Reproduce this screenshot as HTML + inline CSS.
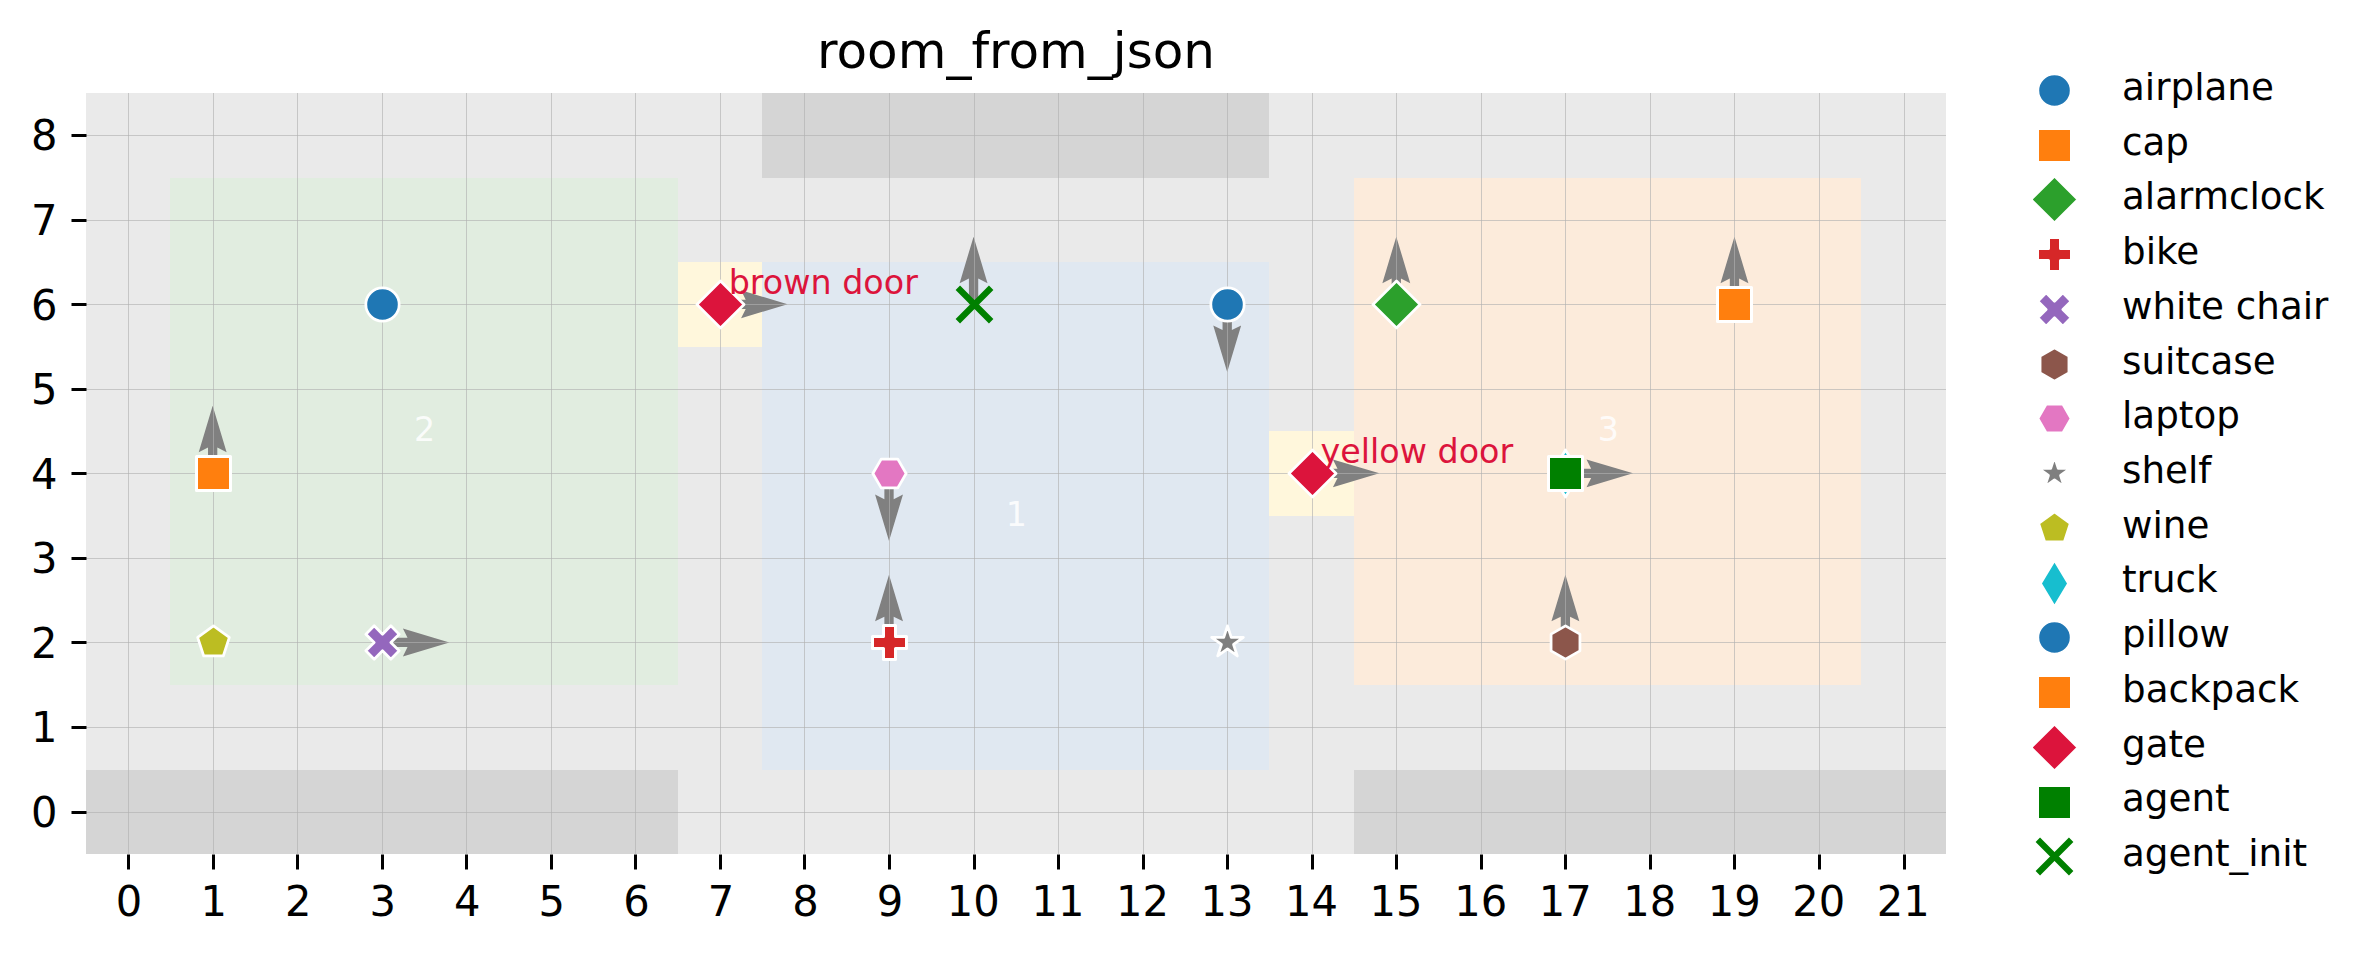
<!DOCTYPE html>
<html lang="en">
<head>
<meta charset="utf-8">
<title>room_from_json</title>
<style>
html,body{margin:0;padding:0;background:#ffffff;}
body{width:2374px;height:955px;overflow:hidden;}
svg{display:block;}
text{white-space:pre;}
</style>
</head>
<body>
<svg width="2374" height="955" viewBox="0 0 2374 955">
<rect x="0" y="0" width="2374" height="955" fill="#ffffff"/>
<rect x="86" y="93" width="1860" height="761" fill="#eaeaea"/>
<g shape-rendering="auto">
<rect x="762" y="93" width="507" height="85" fill="#d5d5d5"/>
<rect x="86" y="770" width="592" height="84" fill="#d5d5d5"/>
<rect x="1354" y="770" width="592" height="84" fill="#d5d5d5"/>
<rect x="170" y="178" width="508" height="507" fill="#e1ede0"/>
<rect x="762" y="262" width="507" height="508" fill="#e0e8f1"/>
<rect x="1354" y="178" width="507" height="507" fill="#fcebdb"/>
<rect x="678" y="262" width="84" height="85" fill="#fff7dc"/>
<rect x="1269" y="431" width="85" height="85" fill="#fff7dc"/>
</g>
<g>
<polygon points="208.02,473.37 208.02,447.58 198.72,452.23 212.67,405.73 226.62,452.23 217.32,447.58 217.32,473.37" fill="#808080"/>
<polygon points="1391.64,304.28 1391.64,278.49 1382.35,283.14 1396.3,236.64 1410.25,283.14 1400.95,278.49 1400.95,304.28" fill="#808080"/>
<polygon points="884.38,642.46 884.38,616.67 875.07,621.32 889.02,574.82 902.98,621.32 893.67,616.67 893.67,642.46" fill="#808080"/>
<polygon points="381.75,637.81 407.54,637.81 402.89,628.51 449.39,642.46 402.89,656.41 407.54,647.11 381.75,647.11" fill="#808080"/>
<polygon points="1560.74,642.46 1560.74,616.67 1551.44,621.32 1565.39,574.82 1579.34,621.32 1570.04,616.67 1570.04,642.46" fill="#808080"/>
<polygon points="893.67,473.37 893.67,499.16 902.98,494.51 889.02,541.01 875.07,494.51 884.38,499.16 884.38,473.37" fill="#808080"/>
<polygon points="1231.86,304.28 1231.86,330.07 1241.15,325.42 1227.2,371.92 1213.25,325.42 1222.55,330.07 1222.55,304.28" fill="#808080"/>
<polygon points="1729.82,304.28 1729.82,278.49 1720.52,283.14 1734.47,236.64 1748.42,283.14 1739.12,278.49 1739.12,304.28" fill="#808080"/>
<polygon points="719.94,299.63 745.72,299.63 741.07,290.33 787.57,304.28 741.07,318.23 745.72,308.93 719.94,308.93" fill="#808080"/>
<polygon points="1311.75,468.72 1337.54,468.72 1332.89,459.42 1379.39,473.37 1332.89,487.32 1337.54,478.02 1311.75,478.02" fill="#808080"/>
<polygon points="1565.39,468.72 1591.17,468.72 1586.52,459.42 1633.02,473.37 1586.52,487.32 1591.17,478.02 1565.39,478.02" fill="#808080"/>
<polygon points="968.92,304.28 968.92,278.49 959.62,283.14 973.57,236.64 987.52,283.14 978.22,278.49 978.22,304.28" fill="#808080"/>
</g>
<g stroke="rgb(176,176,176)" stroke-opacity="0.64" stroke-width="1.0" fill="none" shape-rendering="crispEdges">
<line x1="128.5" y1="93" x2="128.5" y2="854"/>
<line x1="213.5" y1="93" x2="213.5" y2="854"/>
<line x1="297.5" y1="93" x2="297.5" y2="854"/>
<line x1="382.5" y1="93" x2="382.5" y2="854"/>
<line x1="466.5" y1="93" x2="466.5" y2="854"/>
<line x1="551.5" y1="93" x2="551.5" y2="854"/>
<line x1="635.5" y1="93" x2="635.5" y2="854"/>
<line x1="720.5" y1="93" x2="720.5" y2="854"/>
<line x1="804.5" y1="93" x2="804.5" y2="854"/>
<line x1="889.5" y1="93" x2="889.5" y2="854"/>
<line x1="974.5" y1="93" x2="974.5" y2="854"/>
<line x1="1058.5" y1="93" x2="1058.5" y2="854"/>
<line x1="1143.5" y1="93" x2="1143.5" y2="854"/>
<line x1="1227.5" y1="93" x2="1227.5" y2="854"/>
<line x1="1312.5" y1="93" x2="1312.5" y2="854"/>
<line x1="1396.5" y1="93" x2="1396.5" y2="854"/>
<line x1="1481.5" y1="93" x2="1481.5" y2="854"/>
<line x1="1565.5" y1="93" x2="1565.5" y2="854"/>
<line x1="1650.5" y1="93" x2="1650.5" y2="854"/>
<line x1="1734.5" y1="93" x2="1734.5" y2="854"/>
<line x1="1819.5" y1="93" x2="1819.5" y2="854"/>
<line x1="1904.5" y1="93" x2="1904.5" y2="854"/>
<line x1="86" y1="812.5" x2="1946" y2="812.5"/>
<line x1="86" y1="727.5" x2="1946" y2="727.5"/>
<line x1="86" y1="642.5" x2="1946" y2="642.5"/>
<line x1="86" y1="558.5" x2="1946" y2="558.5"/>
<line x1="86" y1="473.5" x2="1946" y2="473.5"/>
<line x1="86" y1="389.5" x2="1946" y2="389.5"/>
<line x1="86" y1="304.5" x2="1946" y2="304.5"/>
<line x1="86" y1="220.5" x2="1946" y2="220.5"/>
<line x1="86" y1="135.5" x2="1946" y2="135.5"/>
</g>
<g stroke="#000000" stroke-width="3">
<line x1="128.5" y1="854.5" x2="128.5" y2="869.5"/>
<line x1="213.5" y1="854.5" x2="213.5" y2="869.5"/>
<line x1="297.5" y1="854.5" x2="297.5" y2="869.5"/>
<line x1="382.5" y1="854.5" x2="382.5" y2="869.5"/>
<line x1="466.5" y1="854.5" x2="466.5" y2="869.5"/>
<line x1="551.5" y1="854.5" x2="551.5" y2="869.5"/>
<line x1="635.5" y1="854.5" x2="635.5" y2="869.5"/>
<line x1="720.5" y1="854.5" x2="720.5" y2="869.5"/>
<line x1="804.5" y1="854.5" x2="804.5" y2="869.5"/>
<line x1="889.5" y1="854.5" x2="889.5" y2="869.5"/>
<line x1="974.5" y1="854.5" x2="974.5" y2="869.5"/>
<line x1="1058.5" y1="854.5" x2="1058.5" y2="869.5"/>
<line x1="1143.5" y1="854.5" x2="1143.5" y2="869.5"/>
<line x1="1227.5" y1="854.5" x2="1227.5" y2="869.5"/>
<line x1="1312.5" y1="854.5" x2="1312.5" y2="869.5"/>
<line x1="1396.5" y1="854.5" x2="1396.5" y2="869.5"/>
<line x1="1481.5" y1="854.5" x2="1481.5" y2="869.5"/>
<line x1="1565.5" y1="854.5" x2="1565.5" y2="869.5"/>
<line x1="1650.5" y1="854.5" x2="1650.5" y2="869.5"/>
<line x1="1734.5" y1="854.5" x2="1734.5" y2="869.5"/>
<line x1="1819.5" y1="854.5" x2="1819.5" y2="869.5"/>
<line x1="1904.5" y1="854.5" x2="1904.5" y2="869.5"/>
<line x1="71.5" y1="812.5" x2="86.5" y2="812.5"/>
<line x1="71.5" y1="727.5" x2="86.5" y2="727.5"/>
<line x1="71.5" y1="642.5" x2="86.5" y2="642.5"/>
<line x1="71.5" y1="558.5" x2="86.5" y2="558.5"/>
<line x1="71.5" y1="473.5" x2="86.5" y2="473.5"/>
<line x1="71.5" y1="389.5" x2="86.5" y2="389.5"/>
<line x1="71.5" y1="304.5" x2="86.5" y2="304.5"/>
<line x1="71.5" y1="220.5" x2="86.5" y2="220.5"/>
<line x1="71.5" y1="135.5" x2="86.5" y2="135.5"/>
</g>
<g font-family="'DejaVu Sans', 'Liberation Sans', sans-serif" font-size="41.67" fill="#000000">
<text transform="translate(129.12 916.2) scale(1 1.037)" text-anchor="middle">0</text>
<text transform="translate(213.67 916.2) scale(1 1.037)" text-anchor="middle">1</text>
<text transform="translate(298.21 916.2) scale(1 1.037)" text-anchor="middle">2</text>
<text transform="translate(382.75 916.2) scale(1 1.037)" text-anchor="middle">3</text>
<text transform="translate(467.3 916.2) scale(1 1.037)" text-anchor="middle">4</text>
<text transform="translate(551.85 916.2) scale(1 1.037)" text-anchor="middle">5</text>
<text transform="translate(636.39 916.2) scale(1 1.037)" text-anchor="middle">6</text>
<text transform="translate(720.94 916.2) scale(1 1.037)" text-anchor="middle">7</text>
<text transform="translate(805.48 916.2) scale(1 1.037)" text-anchor="middle">8</text>
<text transform="translate(890.02 916.2) scale(1 1.037)" text-anchor="middle">9</text>
<text transform="translate(973.37 916.2) scale(1 1.037)" text-anchor="middle">10</text>
<text transform="translate(1057.91 916.2) scale(1 1.037)" text-anchor="middle">11</text>
<text transform="translate(1142.46 916.2) scale(1 1.037)" text-anchor="middle">12</text>
<text transform="translate(1227 916.2) scale(1 1.037)" text-anchor="middle">13</text>
<text transform="translate(1311.55 916.2) scale(1 1.037)" text-anchor="middle">14</text>
<text transform="translate(1396.1 916.2) scale(1 1.037)" text-anchor="middle">15</text>
<text transform="translate(1480.64 916.2) scale(1 1.037)" text-anchor="middle">16</text>
<text transform="translate(1565.19 916.2) scale(1 1.037)" text-anchor="middle">17</text>
<text transform="translate(1649.73 916.2) scale(1 1.037)" text-anchor="middle">18</text>
<text transform="translate(1734.27 916.2) scale(1 1.037)" text-anchor="middle">19</text>
<text transform="translate(1818.82 916.2) scale(1 1.037)" text-anchor="middle">20</text>
<text transform="translate(1903.37 916.2) scale(1 1.037)" text-anchor="middle">21</text>
<text transform="translate(57.63 826.82) scale(1 1.037)" text-anchor="end">0</text>
<text transform="translate(57.63 742.27) scale(1 1.037)" text-anchor="end">1</text>
<text transform="translate(57.63 657.73) scale(1 1.037)" text-anchor="end">2</text>
<text transform="translate(57.63 573.18) scale(1 1.037)" text-anchor="end">3</text>
<text transform="translate(57.63 488.64) scale(1 1.037)" text-anchor="end">4</text>
<text transform="translate(57.63 404.09) scale(1 1.037)" text-anchor="end">5</text>
<text transform="translate(57.63 319.55) scale(1 1.037)" text-anchor="end">6</text>
<text transform="translate(57.63 235) scale(1 1.037)" text-anchor="end">7</text>
<text transform="translate(57.63 150.46) scale(1 1.037)" text-anchor="end">8</text>
</g>
<text x="1016" y="68.2" text-anchor="middle" font-family="'DejaVu Sans', 'Liberation Sans', sans-serif" font-size="50" fill="#000000">room_from_json</text>
<g>
<circle cx="382.5" cy="304.5" r="16.67" fill="#1f77b4" stroke="#ffffff" stroke-width="2.75"/>
<path d="M196.5 456.5 L230.5 456.5 L230.5 490.5 L196.5 490.5 Z" fill="#ff7f0e" stroke="#ffffff" stroke-width="3" stroke-linejoin="round"/>
<path d="M1396.5 328.07 L1420.07 304.5 L1396.5 280.93 L1372.93 304.5 Z" fill="#2ca02c" stroke="#ffffff" stroke-width="2.75" stroke-linejoin="round" stroke-miterlimit="10"/>
<path d="M883.5 625.5 L895.5 625.5 L895.5 636.5 L906.5 636.5 L906.5 648.5 L895.5 648.5 L895.5 659.5 L883.5 659.5 L883.5 648.5 L872.5 648.5 L872.5 636.5 L883.5 636.5 Z" fill="#d62728" stroke="#ffffff" stroke-width="3" stroke-linejoin="round"/>
<path d="M374.17 659.17 L382.5 650.83 L390.83 659.17 L399.17 650.83 L390.83 642.5 L399.17 634.17 L390.83 625.83 L382.5 634.17 L374.17 625.83 L365.83 634.17 L374.17 642.5 L365.83 650.83 Z" fill="#9467bd" stroke="#ffffff" stroke-width="2.75" stroke-linejoin="round" stroke-miterlimit="10"/>
<path d="M1565.5 625.83 L1551.07 634.17 L1551.07 650.83 L1565.5 659.17 L1579.93 650.83 L1579.93 634.17 Z" fill="#8c564b" stroke="#ffffff" stroke-width="2.75" stroke-linejoin="round" stroke-miterlimit="10"/>
<path d="M881.17 459.07 L872.83 473.5 L881.17 487.93 L897.83 487.93 L906.17 473.5 L897.83 459.07 Z" fill="#e377c2" stroke="#ffffff" stroke-width="2.75" stroke-linejoin="round" stroke-miterlimit="10"/>
<path d="M1227.5 625.83 L1223.76 637.35 L1211.65 637.35 L1221.45 644.47 L1217.7 655.98 L1227.5 648.87 L1237.3 655.98 L1233.55 644.47 L1243.35 637.35 L1231.24 637.35 Z" fill="#7f7f7f" stroke="#ffffff" stroke-width="2.75" stroke-linejoin="round" stroke-miterlimit="10"/>
<path d="M213.5 625.83 L197.65 637.35 L203.7 655.98 L223.3 655.98 L229.35 637.35 Z" fill="#bcbd22" stroke="#ffffff" stroke-width="2.75" stroke-linejoin="round" stroke-miterlimit="10"/>
<path d="M1565.5 497.07 L1579.64 473.5 L1565.5 449.93 L1551.36 473.5 Z" fill="#17becf" stroke="#ffffff" stroke-width="2.75" stroke-linejoin="round" stroke-miterlimit="10"/>
<circle cx="1227.5" cy="304.5" r="16.67" fill="#1f77b4" stroke="#ffffff" stroke-width="2.75"/>
<path d="M1717.5 287.5 L1751.5 287.5 L1751.5 321.5 L1717.5 321.5 Z" fill="#ff7f0e" stroke="#ffffff" stroke-width="3" stroke-linejoin="round"/>
<path d="M720.5 328.07 L744.07 304.5 L720.5 280.93 L696.93 304.5 Z" fill="#dc143c" stroke="#ffffff" stroke-width="2.75" stroke-linejoin="round" stroke-miterlimit="10"/>
<path d="M1312.5 497.07 L1336.07 473.5 L1312.5 449.93 L1288.93 473.5 Z" fill="#dc143c" stroke="#ffffff" stroke-width="2.75" stroke-linejoin="round" stroke-miterlimit="10"/>
<path d="M1548.5 456.5 L1582.5 456.5 L1582.5 490.5 L1548.5 490.5 Z" fill="#008000" stroke="#ffffff" stroke-width="3" stroke-linejoin="round"/>
<path d="M957.83 321.17 L991.17 287.83 M957.83 287.83 L991.17 321.17" fill="none" stroke="#008000" stroke-width="6.25" stroke-linecap="butt"/>
</g>
<g font-family="'DejaVu Sans', 'Liberation Sans', sans-serif" font-size="33.33">
<text x="728.72" y="293.85" fill="#dc143c">brown door</text>
<text x="1320.53" y="462.94" fill="#dc143c">yellow door</text>
<text x="1016.44" y="525.54" text-anchor="middle" fill="#ffffff" fill-opacity="0.85">1</text>
<text x="424.63" y="441" text-anchor="middle" fill="#ffffff" fill-opacity="0.85">2</text>
<text x="1608.26" y="441" text-anchor="middle" fill="#ffffff" fill-opacity="0.85">3</text>
</g>
<g>
<circle cx="2054.5" cy="90.5" r="16.67" fill="#1f77b4" stroke="#ffffff" stroke-width="2.75"/>
<path d="M2037.5 128.5 L2071.5 128.5 L2071.5 162.5 L2037.5 162.5 Z" fill="#ff7f0e" stroke="#ffffff" stroke-width="3" stroke-linejoin="round"/>
<path d="M2054.5 223.07 L2078.07 199.5 L2054.5 175.93 L2030.93 199.5 Z" fill="#2ca02c" stroke="#ffffff" stroke-width="2.75" stroke-linejoin="round" stroke-miterlimit="10"/>
<path d="M2048.5 237.5 L2060.5 237.5 L2060.5 248.5 L2071.5 248.5 L2071.5 260.5 L2060.5 260.5 L2060.5 271.5 L2048.5 271.5 L2048.5 260.5 L2037.5 260.5 L2037.5 248.5 L2048.5 248.5 Z" fill="#d62728" stroke="#ffffff" stroke-width="3" stroke-linejoin="round"/>
<path d="M2046.17 326.17 L2054.5 317.83 L2062.83 326.17 L2071.17 317.83 L2062.83 309.5 L2071.17 301.17 L2062.83 292.83 L2054.5 301.17 L2046.17 292.83 L2037.83 301.17 L2046.17 309.5 L2037.83 317.83 Z" fill="#9467bd" stroke="#ffffff" stroke-width="2.75" stroke-linejoin="round" stroke-miterlimit="10"/>
<path d="M2054.5 347.83 L2040.07 356.17 L2040.07 372.83 L2054.5 381.17 L2068.93 372.83 L2068.93 356.17 Z" fill="#8c564b" stroke="#ffffff" stroke-width="2.75" stroke-linejoin="round" stroke-miterlimit="10"/>
<path d="M2046.17 404.07 L2037.83 418.5 L2046.17 432.93 L2062.83 432.93 L2071.17 418.5 L2062.83 404.07 Z" fill="#e377c2" stroke="#ffffff" stroke-width="2.75" stroke-linejoin="round" stroke-miterlimit="10"/>
<path d="M2054.5 456.83 L2050.76 468.35 L2038.65 468.35 L2048.45 475.47 L2044.7 486.98 L2054.5 479.87 L2064.3 486.98 L2060.55 475.47 L2070.35 468.35 L2058.24 468.35 Z" fill="#7f7f7f" stroke="#ffffff" stroke-width="2.75" stroke-linejoin="round" stroke-miterlimit="10"/>
<path d="M2054.5 511.83 L2038.65 523.35 L2044.7 541.98 L2064.3 541.98 L2070.35 523.35 Z" fill="#bcbd22" stroke="#ffffff" stroke-width="2.75" stroke-linejoin="round" stroke-miterlimit="10"/>
<path d="M2054.5 607.07 L2068.64 583.5 L2054.5 559.93 L2040.36 583.5 Z" fill="#17becf" stroke="#ffffff" stroke-width="2.75" stroke-linejoin="round" stroke-miterlimit="10"/>
<circle cx="2054.5" cy="637.5" r="16.67" fill="#1f77b4" stroke="#ffffff" stroke-width="2.75"/>
<path d="M2037.5 675.5 L2071.5 675.5 L2071.5 709.5 L2037.5 709.5 Z" fill="#ff7f0e" stroke="#ffffff" stroke-width="3" stroke-linejoin="round"/>
<path d="M2054.5 771.07 L2078.07 747.5 L2054.5 723.93 L2030.93 747.5 Z" fill="#dc143c" stroke="#ffffff" stroke-width="2.75" stroke-linejoin="round" stroke-miterlimit="10"/>
<path d="M2037.5 785.5 L2071.5 785.5 L2071.5 819.5 L2037.5 819.5 Z" fill="#008000" stroke="#ffffff" stroke-width="3" stroke-linejoin="round"/>
<path d="M2037.83 873.17 L2071.17 839.83 M2037.83 839.83 L2071.17 873.17" fill="none" stroke="#008000" stroke-width="6.25" stroke-linecap="butt"/>
</g>
<g font-family="'DejaVu Sans', 'Liberation Sans', sans-serif" font-size="37.25" fill="#000000">
<text x="2122" y="99.9">airplane</text>
<text x="2122" y="154.62">cap</text>
<text x="2122" y="209.34">alarmclock</text>
<text x="2122" y="264.06">bike</text>
<text x="2122" y="318.78">white chair</text>
<text x="2122" y="373.5">suitcase</text>
<text x="2122" y="428.22">laptop</text>
<text x="2122" y="482.94">shelf</text>
<text x="2122" y="537.66">wine</text>
<text x="2122" y="592.38">truck</text>
<text x="2122" y="647.1">pillow</text>
<text x="2122" y="701.82">backpack</text>
<text x="2122" y="756.54">gate</text>
<text x="2122" y="811.26">agent</text>
<text x="2122" y="865.98">agent_init</text>
</g>
</svg>
</body>
</html>
